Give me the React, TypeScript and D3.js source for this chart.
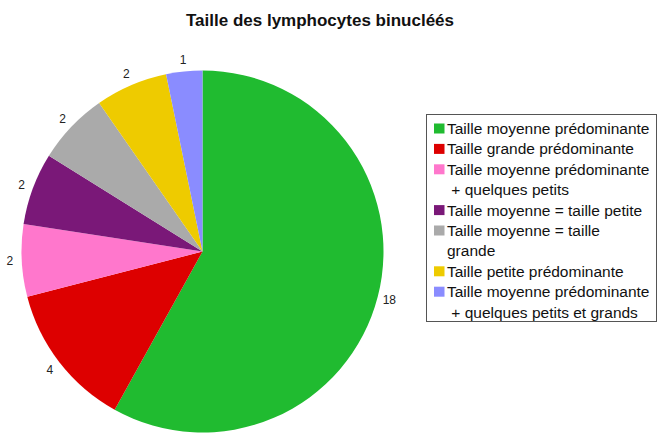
import React from "react";
import * as d3 from "d3";

const categories = [
  "Taille moyenne prédominante",
  "Taille grande prédominante",
  "Taille moyenne prédominante|+ quelques petits",
  "Taille moyenne = taille petite",
  "Taille moyenne = taille|grande",
  "Taille petite prédominante",
  "Taille moyenne prédominante|+ quelques petits et grands",
];
const values = [18, 4, 2, 2, 2, 2, 1];
const colors = ["#20bb30", "#dd0000", "#ff77cc", "#7a1878", "#aaaaaa", "#eecb00", "#8a8cff"];
const title = "Taille des lymphocytes binucléés";

export default function App() {
  const W = 660, H = 435;
  const cx = 202.5, cy = 251.5, r = 181;
  const pie = d3.pie<number>().sort(null).value((d) => d)(values);
  const arc = d3.arc<d3.PieArcDatum<number>>().innerRadius(0).outerRadius(r);
  const labelArc = d3.arc<d3.PieArcDatum<number>>().innerRadius(r + 12).outerRadius(r + 12);

  const lineH = 20.4;
  let y = 128.5;
  const legendRows: { lines: string[]; y: number; color: string }[] = [];
  categories.forEach((c, i) => {
    const lines = c.split("|");
    legendRows.push({ lines, y, color: colors[i] });
    y += lines.length * lineH;
  });

  return (
    <svg width={W} height={H} style={{ position: "absolute", left: 0, top: 0, background: "#fff" }}
      fontFamily="Liberation Sans, Arial, sans-serif">
      <text x={320} y={26} textAnchor="middle" fontSize={17} fontWeight="bold" fill="#111">{title}</text>
      <g transform={`translate(${cx},${cy})`}>
        {pie.map((p, i) => (
          <path key={i} d={arc(p) || ""} fill={colors[i]} />
        ))}
        {pie.map((p, i) => {
          const [lx, ly] = labelArc.centroid(p);
          return (
            <text key={"l" + i} x={lx} y={ly} dy="0.35em" textAnchor="middle" fontSize={12} fill="#222">
              {values[i]}
            </text>
          );
        })}
      </g>
      <rect x={426.5} y={114.5} width={230} height={207} fill="#fff" stroke="#555" strokeWidth={1} />
      {legendRows.map((row, i) => (
        <g key={"lg" + i}>
          <rect x={434} y={row.y - 5} width={10.5} height={10} fill={row.color} />
          {row.lines.map((ln, j) => (
            <text key={j} x={447} y={row.y + j * lineH} dy="0.35em"
              fontSize={15.5} fill="#111">{j > 0 && ln.startsWith("+") ? "\u00a0" + ln : ln}</text>
          ))}
        </g>
      ))}
    </svg>
  );
}
